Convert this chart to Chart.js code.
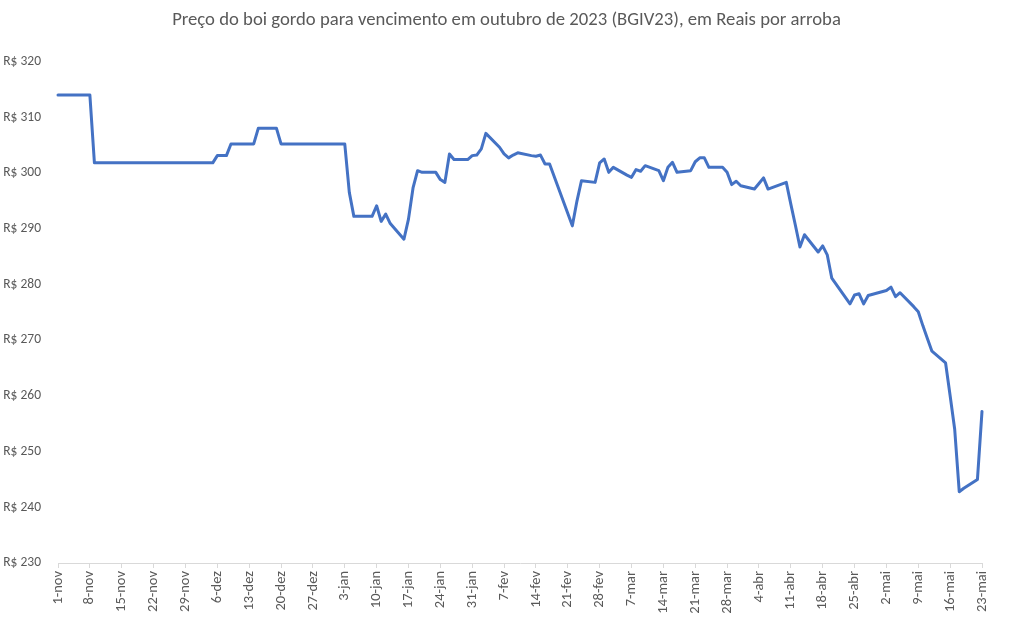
<!DOCTYPE html>
<html>
<head>
<meta charset="utf-8">
<script src="https://cdn.jsdelivr.net/npm/chart.js@4"></script>
<style>
html,body{margin:0;padding:0;background:#fff;}
#wrap{width:1013px;height:630px;position:relative;}
</style>
</head>
<body>
<div id="wrap"><canvas id="c" width="1013" height="630"></canvas></div>
<script>
const chartTitle = 'Preço do boi gordo para vencimento em outubro de 2023 (BGIV23), em Reais por arroba';
const startDate = '2022-11-01';
const tickLabels = ['1-nov','8-nov','15-nov','22-nov','29-nov','6-dez','13-dez','20-dez','27-dez','3-jan','10-jan','17-jan','24-jan','31-jan','7-fev','14-fev','21-fev','28-fev','7-mar','14-mar','21-mar','28-mar','4-abr','11-abr','18-abr','25-abr','2-mai','9-mai','16-mai','23-mai'];
const yTicks = [230,240,250,260,270,280,290,300,310,320];
const dates = [
'2022-11-01','2022-11-03','2022-11-04','2022-11-07','2022-11-08','2022-11-09','2022-11-10','2022-11-11','2022-11-14','2022-11-16',
'2022-11-17','2022-11-18','2022-11-21','2022-11-22','2022-11-23','2022-11-24','2022-11-25','2022-11-28','2022-11-29','2022-11-30',
'2022-12-01','2022-12-02','2022-12-05','2022-12-06','2022-12-07','2022-12-08','2022-12-09','2022-12-12','2022-12-13','2022-12-14',
'2022-12-15','2022-12-16','2022-12-19','2022-12-20','2022-12-21','2022-12-22','2022-12-23','2022-12-26','2022-12-27','2022-12-28',
'2022-12-29','2023-01-02','2023-01-03','2023-01-04','2023-01-05','2023-01-06','2023-01-09','2023-01-10','2023-01-11','2023-01-12',
'2023-01-13','2023-01-16','2023-01-17','2023-01-18','2023-01-19','2023-01-20','2023-01-23','2023-01-24','2023-01-25','2023-01-26',
'2023-01-27','2023-01-30','2023-01-31','2023-02-01','2023-02-02','2023-02-03','2023-02-06','2023-02-07','2023-02-08','2023-02-09',
'2023-02-10','2023-02-13','2023-02-14','2023-02-15','2023-02-16','2023-02-17','2023-02-22','2023-02-23','2023-02-24','2023-02-27',
'2023-02-28','2023-03-01','2023-03-02','2023-03-03','2023-03-06','2023-03-07','2023-03-08','2023-03-09','2023-03-10','2023-03-13',
'2023-03-14','2023-03-15','2023-03-16','2023-03-17','2023-03-20','2023-03-21','2023-03-22','2023-03-23','2023-03-24','2023-03-27',
'2023-03-28','2023-03-29','2023-03-30','2023-03-31','2023-04-03','2023-04-04','2023-04-05','2023-04-06','2023-04-10','2023-04-11',
'2023-04-12','2023-04-13','2023-04-14','2023-04-17','2023-04-18','2023-04-19','2023-04-20','2023-04-24','2023-04-25','2023-04-26',
'2023-04-27','2023-04-28','2023-05-02','2023-05-03','2023-05-04','2023-05-05','2023-05-08','2023-05-09','2023-05-10','2023-05-11',
'2023-05-12','2023-05-15','2023-05-16','2023-05-17','2023-05-18','2023-05-19','2023-05-22','2023-05-23'
];
const prices = [
314.0,314.0,314.0,314.0,314.0,301.8,301.8,301.8,301.8,301.8,
301.8,301.8,301.8,301.8,301.8,301.8,301.8,301.8,301.8,301.8,
301.8,301.8,301.8,303.1,303.1,303.1,305.2,305.2,305.2,305.2,
308.0,308.0,308.0,305.2,305.2,305.2,305.2,305.2,305.2,305.2,
305.2,305.2,305.2,296.5,292.2,292.2,292.2,294.1,291.3,292.6,
290.9,288.1,291.7,297.3,300.4,300.1,300.1,298.8,298.3,303.4,
302.4,302.4,303.1,303.2,304.3,307.1,304.6,303.4,302.7,303.2,
303.6,303.1,303.0,303.2,301.6,301.6,290.5,294.9,298.6,298.3,
301.8,302.5,300.1,301.0,299.6,299.2,300.6,300.3,301.3,300.4,
298.6,301.0,301.9,300.1,300.4,302.0,302.7,302.7,301.0,301.0,
300.1,297.9,298.5,297.7,297.1,298.1,299.1,297.1,298.3,294.4,
290.6,286.7,288.9,285.8,286.9,285.3,281.1,276.5,278.1,278.3,
276.5,278.0,278.9,279.5,277.8,278.5,276.0,275.1,272.6,270.3,
268.0,265.9,260.0,254.0,242.8,243.4,245.0,257.2
];

const DAY = 86400000;
const t0 = Date.parse(startDate + 'T00:00:00Z');
const points = dates.map((d, i) => ({ x: Math.round((Date.parse(d + 'T00:00:00Z') - t0) / DAY), y: prices[i] }));
const lastDay = (tickLabels.length - 1) * 7;

const FONT = 'Calibri, Carlito, Lato, "Liberation Sans", sans-serif';
const GREY = '#595959';

new Chart(document.getElementById('c'), {
  type: 'line',
  data: {
    datasets: [{
      data: points,
      borderColor: '#4472C4',
      borderWidth: 3,
      pointRadius: 0,
      pointHoverRadius: 0,
      tension: 0,
      fill: false,
      clip: false,
      borderJoinStyle: 'round',
      borderCapStyle: 'round'
    }]
  },
  options: {
    responsive: false,
    animation: false,
    devicePixelRatio: 1,
    layout: { padding: { left: 0, right: 0, top: 0, bottom: 0 } },
    plugins: {
      legend: { display: false },
      tooltip: { enabled: false },
      title: {
        display: true,
        text: chartTitle,
        color: GREY,
        font: { family: FONT, size: 18.7, weight: 'normal' },
        padding: { top: 9, bottom: 30 }
      }
    },
    scales: {
      x: {
        type: 'linear',
        min: 0,
        max: lastDay,
        offset: false,
        afterFit: (s) => { s.height = 67; s.paddingRight = 31; },
        ticks: {
          stepSize: 7,
          autoSkip: false,
          maxRotation: 90,
          minRotation: 90,
          padding: 3,
          color: GREY,
          font: { family: FONT, size: 14.5 },
          callback: (v) => tickLabels[Math.round(v / 7)]
        },
        grid: { display: true, drawOnChartArea: false, drawTicks: true, tickLength: 5, color: '#d9d9d9' },
        border: { display: true, color: '#d9d9d9', width: 1 }
      },
      y: {
        min: yTicks[0],
        max: yTicks[yTicks.length - 1],
        afterFit: (s) => { s.width = 58; },
        afterBuildTicks: (s) => { s.ticks = yTicks.map(v => ({ value: v })); },
        ticks: {
          color: GREY,
          font: { family: FONT, size: 13.5 },
          padding: 9,
          callback: (v) => 'R$ ' + v
        },
        grid: { display: false },
        border: { display: false }
      }
    }
  }
});
</script>
</body>
</html>
